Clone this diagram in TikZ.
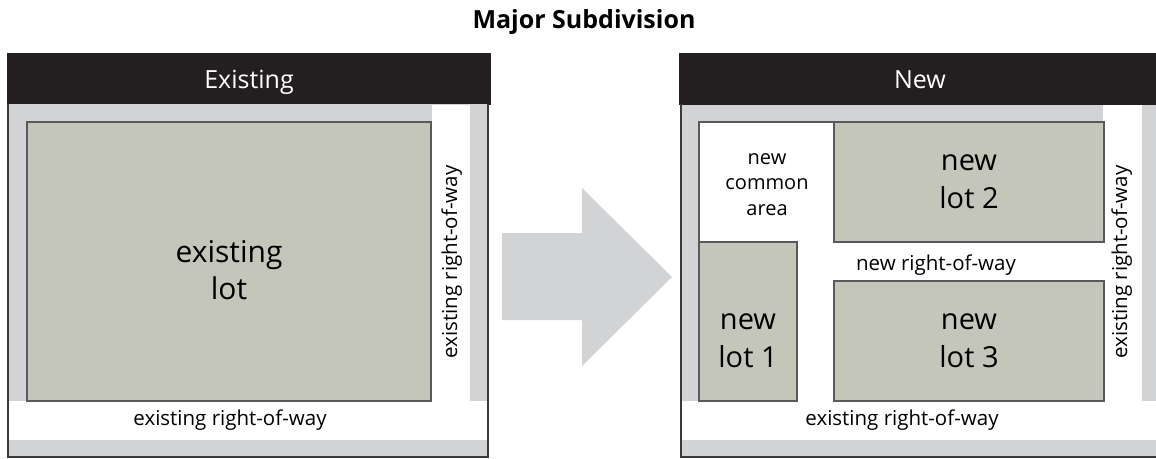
\documentclass[tikz,border=0pt]{standalone}
\usepackage{fontspec}
\setmainfont{Open Sans}
\definecolor{hdr}{HTML}{231F20}
\definecolor{band}{HTML}{D1D3D4}
\definecolor{lotfill}{HTML}{C5C6BA}
\definecolor{lotline}{HTML}{58595B}
\definecolor{frameline}{HTML}{3A3A3C}
\tikzset{
  header/.style={fill=hdr,draw=none},
  body/.style={fill=band,draw=frameline,line width=2pt},
  road/.style={fill=white,draw=none},
  lotbox/.style={fill=lotfill,draw=lotline,line width=1.6pt},
  hdrtext/.style={text=white,anchor=base,inner sep=0pt,font=\fontsize{25}{28}\selectfont},
  bigtext/.style={align=center,anchor=base,font=\fontsize{29}{38}\selectfont,inner sep=0pt},
  midtext/.style={align=center,anchor=base,font=\fontsize{20}{25.5}\selectfont,inner sep=0pt},
  smalltext/.style={anchor=base,font=\fontsize{20.5}{24}\selectfont,inner sep=0pt},
}
\begin{document}
\begin{tikzpicture}[x=1pt,y=-1pt]
\useasboundingbox (0,0) rectangle (1156,458);
% title
\node[font=\bfseries\fontsize{25}{28}\selectfont,inner sep=0pt,anchor=base] (title) at (584,28) {Major Subdivision};
% ---------- left panel
\fill[header] (7,53) rectangle (491,105);
\node[hdrtext] (hl) at (249,88) {Existing};
\draw[body] (8,104) -- (8,457) -- (488,457) -- (488,104);
\fill[band] (9,105) rectangle (487,456);
\fill[road] (432,105) rectangle (470,440);
\fill[road] (9,401) rectangle (487,440);
\draw[lotbox] (27,122) rectangle (431,401);
\node[bigtext,font=\fontsize{30}{37}\selectfont] (lotE) at (229,299) {existing\\lot};
\node[smalltext] (rowEh) at (230,425) {existing right-of-way};
\node[smalltext,rotate=90] (rowEv) at (457,262) {existing right-of-way};
% ---------- arrow
\fill[band] (502,233) -- (582,233) -- (582,188) -- (672,277) -- (582,366) -- (582,320) -- (502,320) -- cycle;
% ---------- right panel
\fill[header] (679,53) rectangle (1158,105);
\node[hdrtext] (hr) at (920,88) {New};
\draw[body] (681,104) -- (681,457) -- (1160,457);
\fill[band] (682,105) rectangle (1158,456);
\fill[road] (1103,105) rectangle (1142,440);
\fill[road] (682,401) rectangle (1158,440);
\fill[road] (699,122) rectangle (1104,401);
\draw[lotline,line width=1.6pt] (699,401) -- (699,122) -- (1104,122);
\draw[lotbox] (834,122) rectangle (1104,242);
\draw[lotbox] (834,281) rectangle (1104,401);
\draw[lotbox] (699,242) rectangle (797,401);
\node[midtext] (common) at (767,215) {new\\common\\area};
\node[bigtext] (lot2) at (969,208) {new\\lot 2};
\node[bigtext] (lot1) at (748,367) {new\\lot 1};
\node[bigtext] (lot3) at (969,367) {new\\lot 3};
\node[smalltext] (rowN) at (936,270) {new right-of-way};
\node[smalltext] (rowNh) at (902,425) {existing right-of-way};
\node[smalltext,rotate=90] (rowNv) at (1127,262) {existing right-of-way};
\end{tikzpicture}
\end{document}
